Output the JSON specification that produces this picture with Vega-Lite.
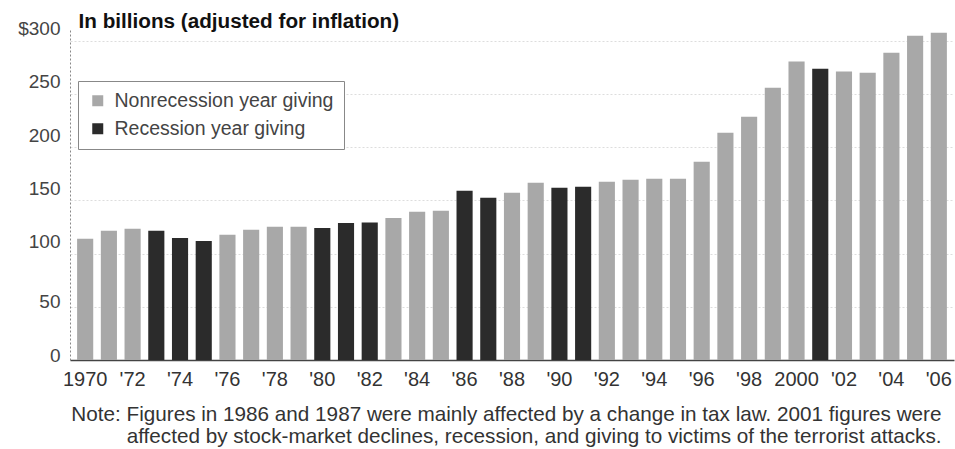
{
  "$schema": "https://vega.github.io/schema/vega-lite/v6.json",
  "autosize": "none",
  "width": 884,
  "height": 330,
  "padding": {"left": 70, "top": 30, "right": 1, "bottom": 89},
  "background": "white",
  "config": {
    "font": "Liberation Sans",
    "view": {"stroke": null}
  },
  "data": {
    "values": [
      {"year": 1970, "giving": 113.8, "type": "Nonrecession year giving"},
      {"year": 1971, "giving": 121.3, "type": "Nonrecession year giving"},
      {"year": 1972, "giving": 123.2, "type": "Nonrecession year giving"},
      {"year": 1973, "giving": 121.3, "type": "Recession year giving"},
      {"year": 1974, "giving": 114.7, "type": "Recession year giving"},
      {"year": 1975, "giving": 111.9, "type": "Recession year giving"},
      {"year": 1976, "giving": 117.6, "type": "Nonrecession year giving"},
      {"year": 1977, "giving": 122.3, "type": "Nonrecession year giving"},
      {"year": 1978, "giving": 125.1, "type": "Nonrecession year giving"},
      {"year": 1979, "giving": 125.1, "type": "Nonrecession year giving"},
      {"year": 1980, "giving": 124.1, "type": "Recession year giving"},
      {"year": 1981, "giving": 128.8, "type": "Recession year giving"},
      {"year": 1982, "giving": 129.2, "type": "Recession year giving"},
      {"year": 1983, "giving": 133.5, "type": "Nonrecession year giving"},
      {"year": 1984, "giving": 139.2, "type": "Nonrecession year giving"},
      {"year": 1985, "giving": 140.1, "type": "Nonrecession year giving"},
      {"year": 1986, "giving": 158.9, "type": "Recession year giving"},
      {"year": 1987, "giving": 152.4, "type": "Recession year giving"},
      {"year": 1988, "giving": 157.1, "type": "Nonrecession year giving"},
      {"year": 1989, "giving": 166.5, "type": "Nonrecession year giving"},
      {"year": 1990, "giving": 161.8, "type": "Recession year giving"},
      {"year": 1991, "giving": 162.7, "type": "Recession year giving"},
      {"year": 1992, "giving": 167.4, "type": "Nonrecession year giving"},
      {"year": 1993, "giving": 169.3, "type": "Nonrecession year giving"},
      {"year": 1994, "giving": 170.2, "type": "Nonrecession year giving"},
      {"year": 1995, "giving": 170.2, "type": "Nonrecession year giving"},
      {"year": 1996, "giving": 186.2, "type": "Nonrecession year giving"},
      {"year": 1997, "giving": 213.5, "type": "Nonrecession year giving"},
      {"year": 1998, "giving": 228.5, "type": "Nonrecession year giving"},
      {"year": 1999, "giving": 255.8, "type": "Nonrecession year giving"},
      {"year": 2000, "giving": 280.3, "type": "Nonrecession year giving"},
      {"year": 2001, "giving": 273.7, "type": "Recession year giving"},
      {"year": 2002, "giving": 270.9, "type": "Nonrecession year giving"},
      {"year": 2003, "giving": 269.9, "type": "Nonrecession year giving"},
      {"year": 2004, "giving": 288.7, "type": "Nonrecession year giving"},
      {"year": 2005, "giving": 304.7, "type": "Nonrecession year giving"},
      {"year": 2006, "giving": 307.5, "type": "Nonrecession year giving"}
    ]
  },
  "mark": {"type": "bar"},
  "encoding": {
    "x": {
      "field": "year",
      "type": "ordinal",
      "scale": {"paddingInner": 0.32, "paddingOuter": 0.3},
      "axis": {
        "labelAngle": 0,
        "labelOverlap": false,
        "labelExpr": "datum.value % 2 == 1 ? '' : ((datum.value == 1970 || datum.value == 2000) ? toString(datum.value) : \"'\" + substring(toString(datum.value), 2))",
        "labelFontSize": 20,
        "labelColor": "#333",
        "labelPadding": 9,
        "ticks": false,
        "domainColor": "#444",
        "domainWidth": 1.5,
        "title": [
          "Note: Figures in 1986 and 1987 were mainly affected by a change in tax law. 2001 figures were",
          "affected by stock-market declines, recession, and giving to victims of the terrorist attacks."
        ],
        "titleX": 871,
        "titleY": 60,
        "titleAlign": "right",
        "titleBaseline": "alphabetic",
        "titleLineHeight": 22,
        "titleFontSize": 20.7,
        "titleFontWeight": "normal",
        "titleColor": "#333",
        "titleLimit": 0
      }
    },
    "y": {
      "field": "giving",
      "type": "quantitative",
      "scale": {"domain": [0, 310], "nice": false},
      "axis": {
        "values": [0, 50, 100, 150, 200, 250, 300],
        "labelExpr": "datum.value == 300 ? '$300' : datum.label",
        "labelFontSize": 19,
        "labelColor": "#444",
        "labelPadding": 10,
        "labelOffset": {"condition": {"test": "datum.value <= 50", "value": -5}, "value": -12},
        "ticks": false,
        "domainColor": "#888",
        "domainDash": [2, 2],
        "gridColor": "#ddd",
        "gridDash": [2, 2],
        "title": "In billions (adjusted for inflation)",
        "titleAngle": 0,
        "titleX": 8,
        "titleY": -3,
        "titleAlign": "left",
        "titleBaseline": "alphabetic",
        "titleFontSize": 20.7,
        "titleFontWeight": "bold",
        "titleColor": "#111",
        "titleLimit": 0
      }
    },
    "color": {
      "field": "type",
      "type": "nominal",
      "scale": {
        "domain": ["Nonrecession year giving", "Recession year giving"],
        "range": ["#a8a8a8", "#2b2b2b"]
      },
      "legend": {
        "title": null,
        "orient": "none",
        "legendX": 8,
        "legendY": 51,
        "symbolType": "square",
        "symbolSize": 121,
        "symbolStrokeWidth": 0,
        "labelFontSize": 19.5,
        "labelColor": "#444",
        "labelOffset": 7,
        "labelLimit": 0,
        "rowPadding": 7,
        "padding": 10,
        "fillColor": "white",
        "strokeColor": "#888"
      }
    }
  }
}
